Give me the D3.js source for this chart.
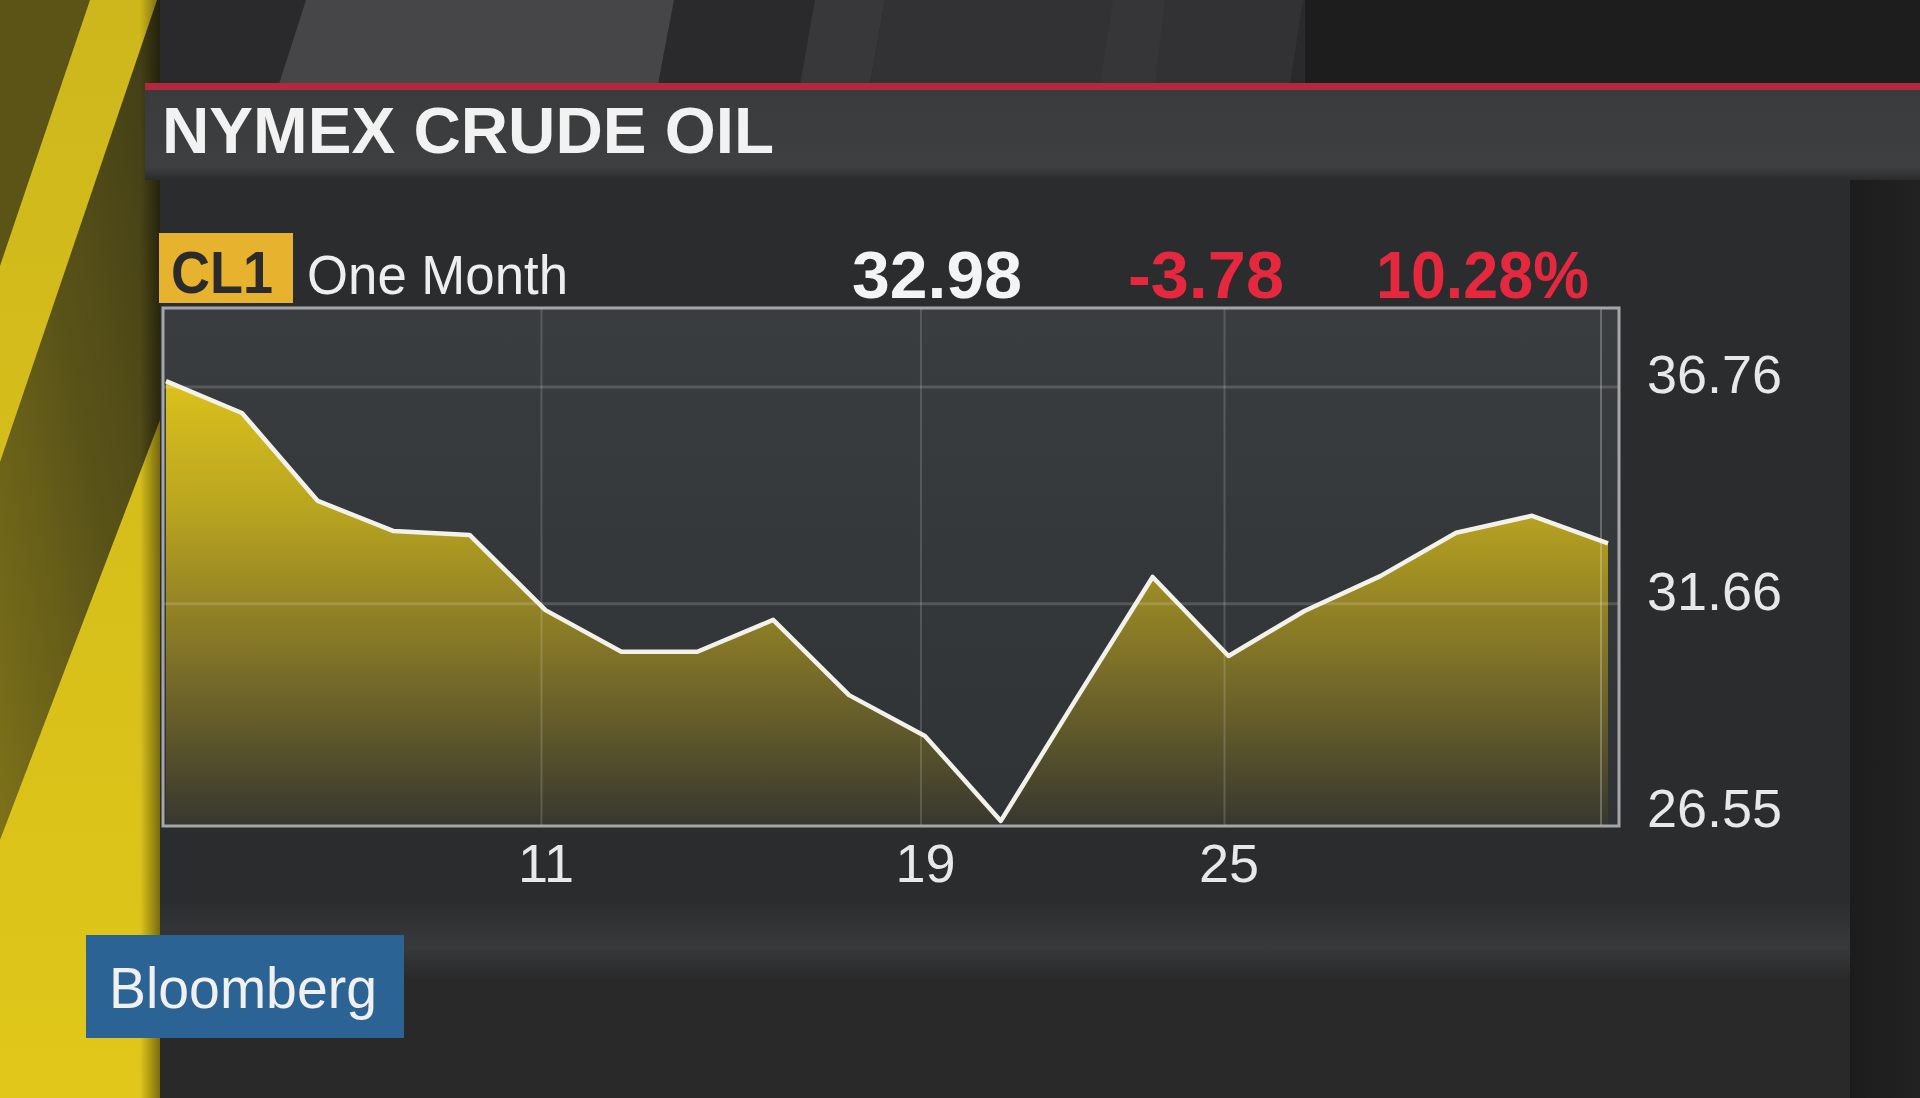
<!DOCTYPE html>
<html><head><meta charset="utf-8">
<script src="https://cdn.jsdelivr.net/npm/d3@7"></script>
<style>html,body{margin:0;padding:0;background:#1e1e1f;overflow:hidden}</style>
</head><body>
<svg id="c" width="1920" height="1098"></svg>
<script>
// ---- data ----
const dates = ["4","5","6","7","8","11","12","13","14","15","19","20","21","22","25","26","27","28","29","1"];
const prices = [36.90, 36.15, 34.08, 33.37, 33.28, 31.51, 30.53, 30.53, 31.28, 29.51, 28.55, 26.55, 29.44, 32.29, 30.43, 31.49, 32.31, 33.33, 33.73, 33.08];
const xTickLabels = ["11", "19", "25"];
const yTickValues = [36.76, 31.66, 26.55];
const yTickLabels = ["36.76", "31.66", "26.55"];
const yDomain = [26.43, 38.62];
const titleText = "NYMEX CRUDE OIL";
const tickerText = ["CL1", "One Month"];
const quoteText = ["32.98", "-3.78", "10.28%"];
const brandText = "Bloomberg";

// ---- layout ----
const W = 1920, H = 1098;
const plot = {x0: 163, x1: 1619, y0: 308, y1: 826};
const FONT = "'Liberation Sans', Arial, Helvetica, sans-serif";
const svg = d3.select("#c");
const defs = svg.append("defs");

function lg(id, x1, y1, x2, y2, stops, user) {
  const g = defs.append("linearGradient").attr("id", id)
    .attr("x1", x1).attr("y1", y1).attr("x2", x2).attr("y2", y2);
  if (user) g.attr("gradientUnits", "userSpaceOnUse");
  stops.forEach(s => g.append("stop").attr("offset", s[0]).attr("stop-color", s[1]).attr("stop-opacity", s[2] == null ? 1 : s[2]));
}
lg("fillGrad", 0, 375, 0, 826, [[0, "#dcc31c"], [0.3, "#b9a420"], [0.62, "#807327"], [1, "#37372f"]], true);
lg("plotBg", 0, 0, 0, 1, [[0, "#3a3d40"], [1, "#303335"]]);
lg("oliveGrad", 1, 0, 0, 1, [[0, "#3f3b16"], [0.5, "#5a5318"], [1, "#7d7119"]]);
lg("stripShadow", 0, 0, 1, 0, [[0, "#000", 0], [1, "#000", 0.45]]);
lg("yellowGrad", 0, 0, 0, 1, [[0, "#cdb71c"], [1, "#e0c719"]]);
lg("panelGlow", 0, 0, 0, 1, [[0, "#2b2c2e"], [0.6, "#37393b"], [1, "#2a2a2b"]]);
lg("titleGrad", 0, 0, 0, 1, [[0, "#3a3b3d"], [0.85, "#3e3f41"], [1, "#2a2b2c"]]);
lg("rightGrad", 0, 0, 1, 0, [[0, "#1c1c1d"], [1, "#222223"]]);

// ---- background ----
const bg = svg.append("g");
bg.append("rect").attr("x", 0).attr("y", 0).attr("width", W).attr("height", H).attr("fill", "#1d1d1e");
// top band stripes
bg.append("rect").attr("x", 145).attr("y", 0).attr("width", 1160).attr("height", 84).attr("fill", "#2a2a2c");
bg.append("polygon").attr("points", "306,0 674,0 658,84 279,84").attr("fill", "#464648");
bg.append("polygon").attr("points", "815,0 885,0 870,84 800,84").attr("fill", "#38383a");
bg.append("polygon").attr("points", "885,0 1303,0 1290,84 870,84").attr("fill", "#323234");
bg.append("polygon").attr("points", "1113,0 1165,0 1155,84 1100,84").attr("fill", "#363638");
// lower area and right strip
bg.append("rect").attr("x", 160).attr("y", 978).attr("width", 1690).attr("height", 120).attr("fill", "#29292a");
bg.append("rect").attr("x", 1850).attr("y", 178).attr("width", 70).attr("height", 920).attr("fill", "url(#rightGrad)");
// panel
bg.append("rect").attr("x", 160).attr("y", 178).attr("width", 1690).attr("height", 800).attr("fill", "#2b2c2e");
bg.append("rect").attr("x", 160).attr("y", 900).attr("width", 1690).attr("height", 78).attr("fill", "url(#panelGlow)");
// yellow strip
bg.append("rect").attr("x", 0).attr("y", 0).attr("width", 160).attr("height", H).attr("fill", "url(#yellowGrad)");
bg.append("polygon").attr("points", "0,0 90,0 0,266").attr("fill", "#5c5417");
bg.append("polygon").attr("points", "157,0 160,0 160,420 0,840 0,462").attr("fill", "url(#oliveGrad)");
bg.append("rect").attr("x", 140).attr("y", 0).attr("width", 20).attr("height", H).attr("fill", "url(#stripShadow)");
// title bar
bg.append("rect").attr("x", 145).attr("y", 83).attr("width", W - 145).attr("height", 7).attr("fill", "#b3283d");
bg.append("rect").attr("x", 145).attr("y", 90).attr("width", W - 145).attr("height", 90).attr("fill", "url(#titleGrad)");

svg.append("text").attr("x", 162).attr("y", 153)
  .attr("font-family", FONT).attr("font-weight", "bold").attr("font-size", 64)
  .attr("fill", "#f2f2f2").attr("textLength", 612).attr("lengthAdjust", "spacingAndGlyphs")
  .text(titleText);

// ---- header row ----
svg.append("rect").attr("x", 159).attr("y", 233).attr("width", 134).attr("height", 70).attr("fill", "#e7b22e");
svg.append("text").attr("x", 171).attr("y", 293).attr("font-family", FONT).attr("font-weight", "bold")
  .attr("font-size", 60).attr("fill", "#2b2b2b").attr("textLength", 102).attr("lengthAdjust", "spacingAndGlyphs")
  .text(tickerText[0]);
svg.append("text").attr("x", 307).attr("y", 294).attr("font-family", FONT)
  .attr("font-size", 56).attr("fill", "#eeeeee").attr("textLength", 261).attr("lengthAdjust", "spacingAndGlyphs")
  .text(tickerText[1]);
const quotePos = [[852, 170, "#f4f4f4"], [1128, 156, "#e6283f"], [1376, 213, "#e6283f"]];
quoteText.forEach((t, i) => {
  svg.append("text").attr("x", quotePos[i][0]).attr("y", 298).attr("font-family", FONT).attr("font-weight", "bold")
    .attr("font-size", 66).attr("fill", quotePos[i][2]).attr("textLength", quotePos[i][1]).attr("lengthAdjust", "spacingAndGlyphs")
    .text(t);
});

// ---- chart ----
const x = d3.scalePoint().domain(dates).range([166, 1608]);
const y = d3.scaleLinear().domain(yDomain).range([plot.y1, plot.y0]);
const series = dates.map((d, i) => ({d, v: prices[i]}));

const chart = svg.append("g");
chart.append("rect").attr("x", plot.x0).attr("y", plot.y0).attr("width", plot.x1 - plot.x0).attr("height", plot.y1 - plot.y0)
  .attr("fill", "url(#plotBg)");

chart.append("path").datum(series)
  .attr("d", d3.area().x(p => x(p.d)).y0(plot.y1).y1(p => y(p.v)))
  .attr("fill", "url(#fillGrad)");

// gridlines
chart.selectAll(".hg").data(yTickValues.filter(v => plot.y1 - y(v) > 10)).join("line")
  .attr("x1", plot.x0).attr("x2", plot.x1).attr("y1", v => y(v)).attr("y2", v => y(v))
  .attr("stroke", "#ffffff").attr("stroke-opacity", 0.16).attr("stroke-width", 3);
chart.selectAll(".vg").data(xTickLabels).join("line")
  .attr("x1", d => x(d) - 4).attr("x2", d => x(d) - 4).attr("y1", plot.y0).attr("y2", plot.y1)
  .attr("stroke", "#ffffff").attr("stroke-opacity", 0.16).attr("stroke-width", 2);
// current marker line
chart.append("line").attr("x1", x(dates[dates.length - 1]) - 7).attr("x2", x(dates[dates.length - 1]) - 7)
  .attr("y1", plot.y0).attr("y2", plot.y1).attr("stroke", "#ffffff").attr("stroke-opacity", 0.25).attr("stroke-width", 2);

chart.append("path").datum(series)
  .attr("d", d3.line().x(p => x(p.d)).y(p => y(p.v)))
  .attr("fill", "none").attr("stroke", "#f3f2ea").attr("stroke-width", 4.5).attr("stroke-linejoin", "round");

chart.append("rect").attr("x", plot.x0).attr("y", plot.y0).attr("width", plot.x1 - plot.x0).attr("height", plot.y1 - plot.y0)
  .attr("fill", "none").attr("stroke", "#a4a6a8").attr("stroke-width", 3);

// axes
const yAxis = d3.axisRight(y).tickValues(yTickValues).tickFormat((d, i) => yTickLabels[i]).tickSize(0).tickPadding(0);
const ya = svg.append("g").attr("transform", `translate(1647,0)`).call(yAxis);
ya.select(".domain").remove();
ya.selectAll("text").attr("x", 0).attr("dy", "0.11em").attr("font-family", FONT).attr("font-size", 54)
  .attr("fill", "#e8e8e8").attr("text-anchor", "start");

const xAxis = d3.axisBottom(x).tickValues(xTickLabels).tickSize(0).tickPadding(0);
const xa = svg.append("g").attr("transform", `translate(0,${plot.y1})`).call(xAxis);
xa.select(".domain").remove();
xa.selectAll("text").attr("y", 56).attr("dy", 0).attr("font-family", FONT).attr("font-size", 54)
  .attr("fill", "#e8e8e8");

// brand
svg.append("rect").attr("x", 86).attr("y", 935).attr("width", 318).attr("height", 103).attr("fill", "#2a6394");
svg.append("text").attr("x", 109).attr("y", 1008).attr("font-family", FONT).attr("font-size", 58)
  .attr("fill", "#f0f0f0").attr("textLength", 268).attr("lengthAdjust", "spacingAndGlyphs").text(brandText);
</script>
</body></html>
